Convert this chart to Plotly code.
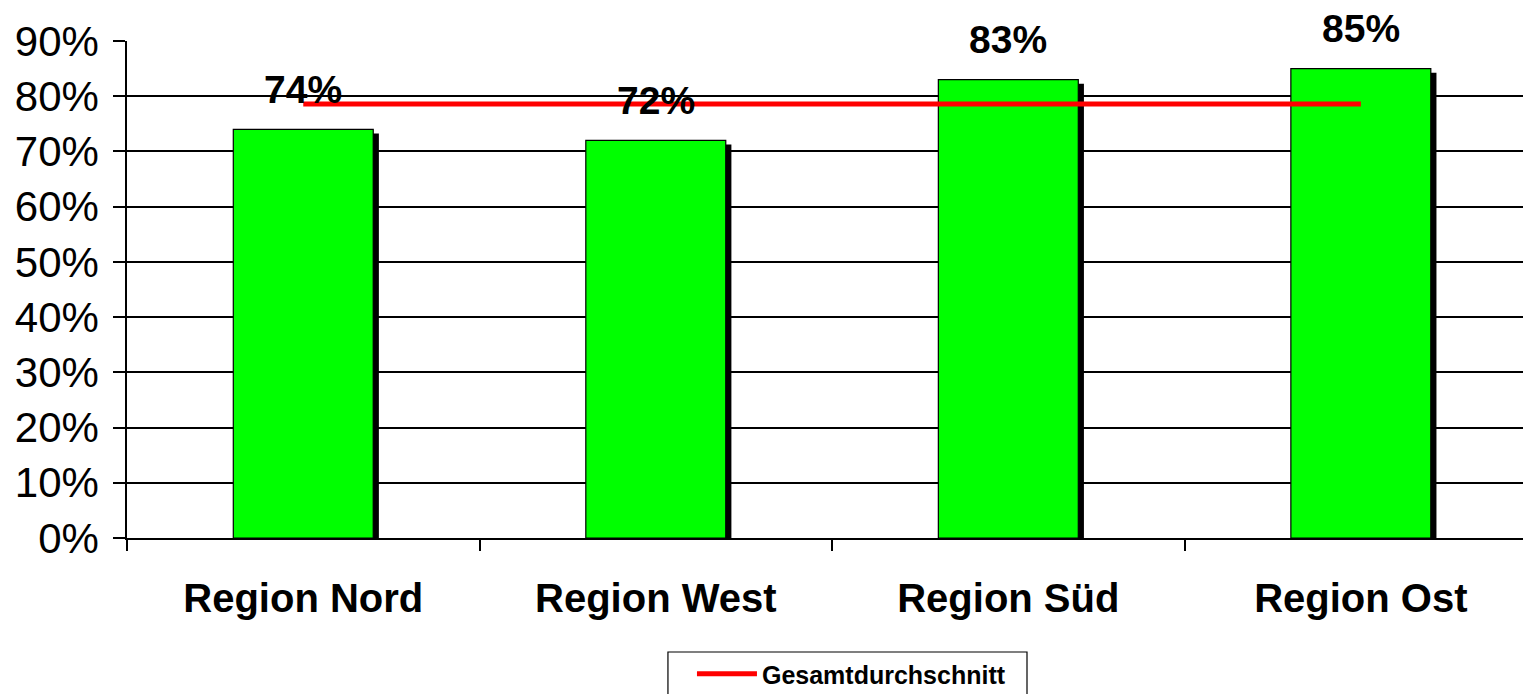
import plotly.graph_objects as go

# Anteil je Region
regions = ["Region Nord", "Region West", "Region Süd", "Region Ost"]
anteile = [0.74, 0.72, 0.83, 0.85]
gesamtdurchschnitt = 0.786
y_ticks = [0.0, 0.1, 0.2, 0.3, 0.4, 0.5, 0.6, 0.7, 0.8, 0.9]

FONT = "Liberation Sans, Arial, sans-serif"
BAR_W = 0.397
SHADOW_DX = 0.016
SHADOW_DY = 0.0075

fig = go.Figure()

# Schatten hinter den Säulen
fig.add_trace(go.Bar(
    x=regions, y=anteile, base=[-SHADOW_DY] * len(anteile),
    width=BAR_W, offset=-BAR_W / 2 + SHADOW_DX,
    marker=dict(color="black", line=dict(width=0)),
    showlegend=False, hoverinfo="skip",
))

# Säulen
fig.add_trace(go.Bar(
    x=regions, y=anteile, width=BAR_W, offset=-BAR_W / 2,
    marker=dict(color="#00FF00", line=dict(color="black", width=1.2)),
    showlegend=False,
))

# Gesamtdurchschnitt als Linie
fig.add_trace(go.Scatter(
    x=regions, y=[gesamtdurchschnitt] * len(regions),
    mode="lines", line=dict(color="#FF0000", width=5),
    name="Gesamtdurchschnitt",
))

# Werte über den Säulen
for r, v in zip(regions, anteile):
    fig.add_annotation(
        x=r, y=v, text=f"<b>{round(v * 100)}%</b>", showarrow=False,
        yanchor="middle", yshift=40,
        font=dict(family=FONT, size=39, color="black"),
    )

# Rahmen um die Legende (etwas breiter als der Standardrahmen)
fig.add_shape(
    type="rect", xref="paper", yref="paper",
    x0=0.3875, x1=0.6447, y0=-0.2294, y1=-0.33,
    line=dict(color="black", width=1.2), fillcolor="rgba(0,0,0,0)",
)

fig.update_layout(
    width=1523, height=694,
    margin=dict(l=127, r=0, t=41, b=156, autoexpand=False),
    paper_bgcolor="white", plot_bgcolor="white",
    barmode="overlay",
    font=dict(family=FONT, color="black"),
    legend=dict(
        orientation="h", x=0.4047, xanchor="left", y=-0.2274, yanchor="top",
        borderwidth=0, bgcolor="rgba(0,0,0,0)", itemwidth=60,
        font=dict(family=FONT, size=25, color="black", weight="bold"),
    ),
    xaxis=dict(
        type="category", range=[-0.5, 3.46], automargin=False,
        tickson="boundaries", ticks="outside", ticklen=11, tickwidth=1.5,
        tickcolor="black", showgrid=False,
        showline=True, linecolor="black", linewidth=1.5,
        tickfont=dict(family=FONT, size=40, color="black", weight="bold"),
        ticklabelstandoff=24,
    ),
    yaxis=dict(
        range=[0, 0.9], tickvals=y_ticks, tickformat=".0%", automargin=False,
        ticks="outside", ticklen=12, tickwidth=1.5, tickcolor="black",
        showgrid=True, gridcolor="black", gridwidth=1.5,
        showline=True, linecolor="black", linewidth=1.5,
        zeroline=False,
        tickfont=dict(family=FONT, size=42, color="black"),
        ticklabelstandoff=6,
    ),
)

fig.write_html("out.html")
